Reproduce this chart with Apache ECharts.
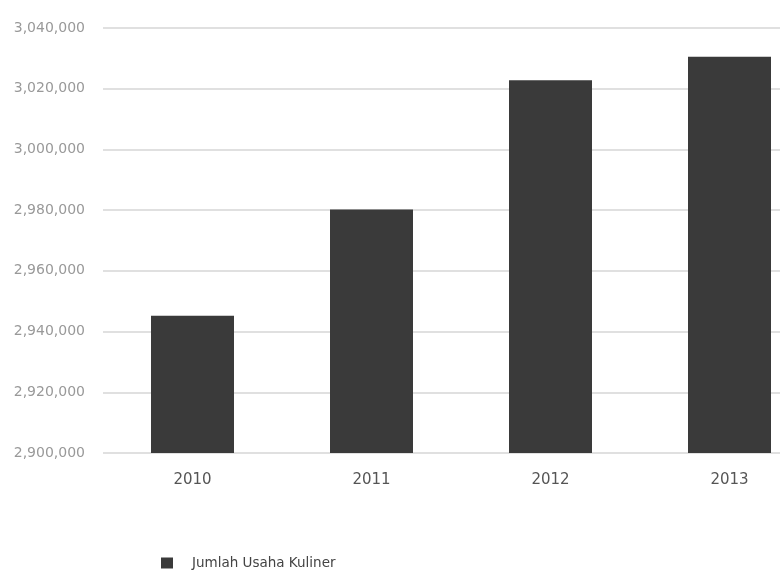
<!DOCTYPE html>
<html>
<head>
<meta charset="utf-8">
<script src="https://cdn.jsdelivr.net/npm/echarts@6/dist/echarts.min.js"></script>
<style>
  html, body { margin: 0; padding: 0; background: #fff; overflow: hidden; }
  /* wider than the window: the last bar's band runs past the right edge */
  #chart { width: 819px; height: 570px; }
</style>
</head>
<body>
<div id="chart"></div>
<script>
const years = ['2010', '2011', '2012', '2013']
const jumlahUsahaKuliner = [2945200, 2980200, 3022800, 3030500]
const seriesName = 'Jumlah Usaha Kuliner'

const chart = echarts.init(document.getElementById('chart'))

const option = {
  animation: false,
  textStyle: { fontFamily: 'DejaVu Sans' },
  grid: {
    left: 103,
    right: 0,
    top: 28,
    bottom: 117
  },
  legend: {
    data: [seriesName],
    left: 156,
    top: 551,
    icon: 'rect',
    itemWidth: 12,
    itemHeight: 11,
    textStyle: {
      fontSize: 13.5,
      lineHeight: 14,
      color: '#444',
      padding: [0, 0, 0, 14]
    }
  },
  xAxis: {
    type: 'category',
    data: years,
    axisLine: { show: false },
    axisTick: { show: false },
    axisLabel: {
      fontSize: 15,
      color: '#555',
      margin: 20
    }
  },
  yAxis: {
    type: 'value',
    min: 2900000,
    max: 3040000,
    interval: 20000,
    axisLine: { show: false },
    axisTick: { show: false },
    axisLabel: {
      fontSize: 14,
      color: '#999',
      margin: 18,
      formatter: v => v.toLocaleString('en-US')
    },
    splitLine: {
      lineStyle: { color: '#d6d6d6', width: 1.5 }
    }
  },
  series: [
    {
      name: seriesName,
      type: 'bar',
      data: jumlahUsahaKuliner,
      barWidth: 83,
      itemStyle: { color: '#3a3a3a' }
    }
  ]
}

chart.setOption(option)
</script>
</body>
</html>
